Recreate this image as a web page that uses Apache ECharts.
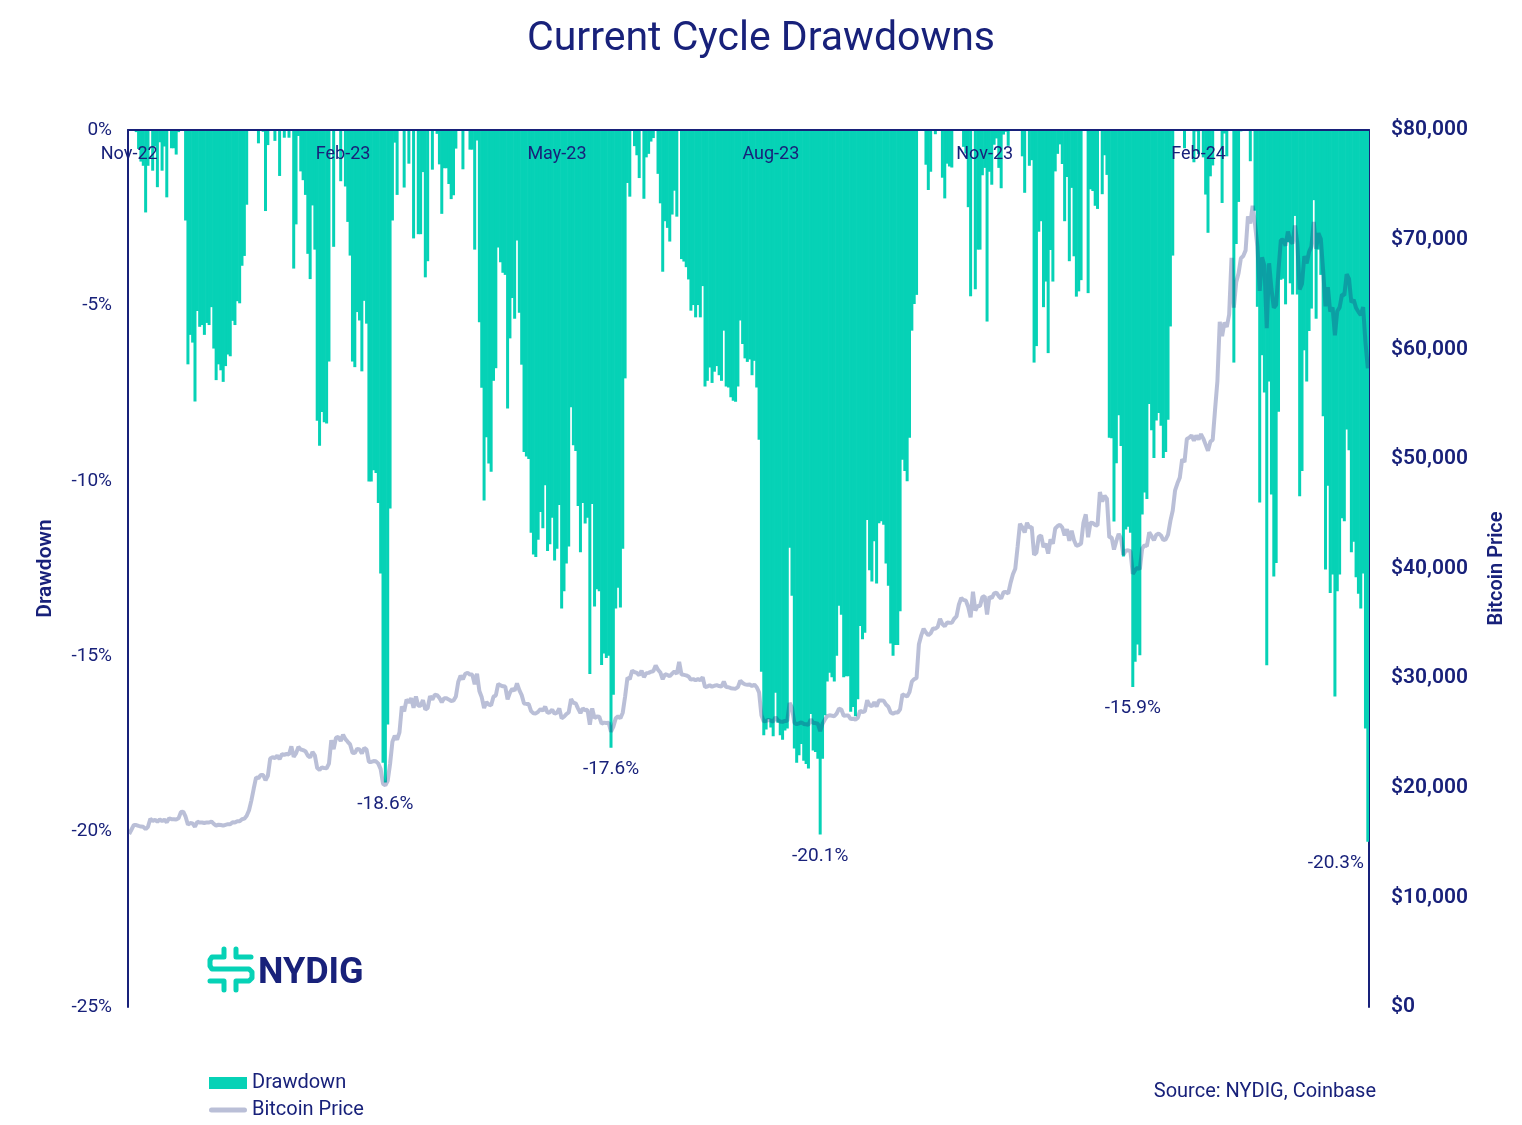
<!DOCTYPE html>
<html>
<head>
<meta charset="utf-8">
<title>Current Cycle Drawdowns</title>
<script src="https://cdn.jsdelivr.net/npm/echarts@6/dist/echarts.min.js"></script>
<style>
  html, body { margin: 0; padding: 0; background: #fff; }
  #chart { width: 1522px; height: 1125px; }
</style>
</head>
<body>
<div id="chart"></div>
<script>
// daily BTC closes (thousand $); month arrays start on the day given in priceMonths
const nov22 = [15.78, 16.19, 16.61, 16.60, 16.52, 16.46, 16.44, 16.22, 16.44, 17.17];
const dec22 = [16.97, 17.09, 16.89, 17.11, 16.97, 17.09, 16.84, 17.22, 17.13, 17.13, 17.10, 17.21, 17.78, 17.82, 17.36, 16.63,
  16.78, 16.74, 16.44, 16.90, 16.82, 16.83, 16.78, 16.84, 16.83, 16.92, 16.71, 16.55, 16.63, 16.60, 16.54];
const jan23 = [16.62, 16.68, 16.67, 16.85, 16.83, 16.95, 16.94, 17.13, 17.18, 17.44, 17.94, 18.85, 19.93, 20.95, 20.87, 21.17,
  21.16, 20.68, 21.08, 22.67, 22.78, 22.71, 22.92, 22.62, 23.06, 23.01, 23.08, 23.03, 23.77, 22.83, 23.13];
const feb23 = [23.73, 23.49, 23.43, 23.33, 22.93, 22.76, 23.26, 22.96, 21.80, 21.63, 21.86, 21.79, 21.78, 22.20, 24.33, 23.52,
  24.57, 24.63, 24.27, 24.84, 24.44, 24.19, 23.95, 23.20, 23.16, 23.55, 23.49, 23.13];
const mar23 = [23.63, 23.47, 22.35, 22.35, 22.43, 22.41, 22.20, 21.70, 20.36, 20.22, 20.63, 22.16, 24.20, 24.75, 24.38, 25.05,
  27.42, 26.97, 28.04, 27.77, 28.17, 27.30, 28.33, 27.49, 27.49, 27.99, 27.14, 27.27, 28.35, 28.03, 28.48];
const apr23 = [28.45, 28.20, 27.80, 28.17, 28.17, 28.04, 27.92, 27.95, 28.33, 29.65, 30.23, 29.89, 30.40, 30.49, 30.32, 30.32,
  29.45, 30.40, 28.82, 28.25, 27.27, 27.82, 27.59, 27.52, 28.31, 28.42, 29.47, 29.34, 29.25, 29.23];
const may23 = [28.07, 28.68, 29.03, 28.85, 29.53, 28.90, 28.45, 27.69, 27.65, 27.63, 26.99, 26.80, 26.78, 26.93, 27.17, 27.03,
  27.40, 26.83, 26.89, 27.12, 26.75, 26.85, 27.23, 26.33, 26.48, 26.72, 26.87, 28.08, 27.75, 27.70, 27.22];
const jun23 = [26.82, 27.25, 27.07, 27.12, 25.76, 27.24, 26.35, 26.50, 26.48, 25.84, 25.94, 25.90, 25.92, 25.12, 25.58, 26.33,
  26.51, 26.34, 26.85, 28.33, 30.03, 29.91, 30.69, 30.55, 30.47, 30.27, 30.69, 30.09, 30.45, 30.48];
const jul23 = [30.59, 30.62, 31.16, 30.77, 30.51, 29.90, 30.35, 30.29, 30.17, 30.41, 30.62, 30.39, 31.48, 30.32, 30.30, 30.25,
  30.14, 29.86, 29.91, 29.80, 29.91, 29.80, 30.08, 29.18, 29.23, 29.35, 29.21, 29.31, 29.36, 29.28, 29.23];
const aug23 = [29.68, 29.18, 29.17, 29.08, 29.05, 29.04, 29.18, 29.77, 29.56, 29.43, 29.40, 29.42, 29.28, 29.41, 29.17, 28.70,
  26.62, 26.05, 26.10, 26.19, 26.12, 26.04, 26.43, 26.16, 26.05, 26.01, 26.09, 26.11, 27.73, 27.30, 25.93];
const sep23 = [25.80, 25.87, 25.97, 25.82, 25.79, 25.75, 26.24, 25.91, 25.90, 25.84, 25.16, 25.84, 26.23, 26.53, 26.61, 26.57,
  26.53, 26.76, 27.21, 27.13, 26.57, 26.58, 26.58, 26.26, 26.30, 26.22, 26.37, 27.03, 26.91, 26.97];
const oct23 = [27.98, 27.53, 27.43, 27.79, 27.41, 27.95, 27.97, 27.94, 27.59, 27.39, 26.87, 26.76, 26.86, 26.86, 27.16, 28.52,
  28.42, 28.33, 28.72, 29.68, 29.92, 30.00, 33.09, 33.90, 34.50, 34.16, 33.91, 34.09, 34.54, 34.50, 34.67];
const nov23 = [35.42, 34.94, 34.73, 35.08, 35.05, 35.04, 35.42, 35.63, 36.70, 37.31, 37.13, 37.06, 36.49, 35.54, 37.88, 36.16,
  36.59, 36.59, 37.39, 37.47, 35.81, 37.43, 37.29, 37.72, 37.79, 37.47, 37.25, 37.83, 37.86, 37.71];
const dec23 = [38.69, 39.47, 39.98, 41.98, 44.08, 43.75, 43.29, 44.17, 43.72, 43.79, 41.24, 41.45, 42.89, 43.02, 41.94, 42.26,
  41.36, 42.66, 42.26, 43.65, 43.87, 43.99, 43.74, 43.02, 43.58, 42.52, 43.44, 42.58, 42.07, 42.14, 42.28];
const jan24 = [44.18, 44.94, 42.85, 44.18, 44.16, 43.97, 43.93, 46.97, 46.11, 46.63, 46.37, 42.85, 42.84, 41.73, 42.51, 43.15,
  42.74, 41.26, 41.62, 41.66, 41.58, 39.51, 39.85, 40.08, 39.94, 41.82, 42.12, 42.03, 43.30, 42.95, 42.58];
const feb24 = [43.08, 43.18, 43.01, 42.58, 42.66, 43.09, 44.34, 45.29, 47.13, 47.77, 48.29, 49.96, 49.70, 51.81, 51.94, 52.14,
  51.66, 52.12, 51.78, 52.26, 51.85, 51.30, 50.73, 51.57, 51.73, 54.48, 57.08, 62.50, 61.20];
const mar24 = [62.44, 62.03, 63.17, 68.33, 63.80, 66.11, 66.93, 68.30, 68.50, 69.02, 72.12, 71.48, 73.08, 71.40, 69.40, 65.32,
  68.39, 67.61, 61.93, 67.84, 65.49, 63.78, 64.06, 67.21, 69.96, 69.98, 69.45, 70.74, 69.89, 69.65, 71.29];
const apr24 = [69.65, 65.45, 65.98, 68.49, 67.84, 68.89, 69.36, 71.62, 69.15, 70.59, 70.06, 67.12, 63.92, 65.67, 63.43, 63.82,
  61.28, 63.47, 63.82, 64.99, 64.93, 66.84, 66.41, 64.28, 64.50, 63.76, 63.42, 63.11, 63.84, 60.61];
const may24 = [58.25];

const priceMonths = [
  ['2022-11', 21, nov22], ['2022-12', 1, dec22], ['2023-01', 1, jan23], ['2023-02', 1, feb23],
  ['2023-03', 1, mar23], ['2023-04', 1, apr23], ['2023-05', 1, may23], ['2023-06', 1, jun23],
  ['2023-07', 1, jul23], ['2023-08', 1, aug23], ['2023-09', 1, sep23], ['2023-10', 1, oct23],
  ['2023-11', 1, nov23], ['2023-12', 1, dec23], ['2024-01', 1, jan24], ['2024-02', 1, feb24],
  ['2024-03', 1, mar24], ['2024-04', 1, apr24], ['2024-05', 1, may24]
];

// x tick labels, one every 91 days from the first date
const xTickLabels = ['Nov-22', 'Feb-23', 'May-23', 'Aug-23', 'Nov-23', 'Feb-24'];

// labelled troughs
const troughDates = ['2023-03-10', '2023-06-14', '2023-09-11', '2024-01-22', '2024-05-01'];
const troughLabels = ['-18.6%', '-17.6%', '-20.1%', '-15.9%', '-20.3%'];

const navy = '#18217a';
const teal = '#06d2b6';
const lineColor = 'rgba(27,42,122,0.3)';

// build dates and values
let dates = [];
let price = [];
priceMonths.forEach(function (m) {
  m[2].forEach(function (v, i) {
    let d = m[1] + i;
    dates.push(m[0] + '-' + (d < 10 ? '0' + d : d));
    price.push(Math.round(v * 1000));
  });
});

// drawdown from running high of the cycle
let drawdown = [];
let high = 0;
price.forEach(function (p) {
  high = Math.max(high, p);
  drawdown.push(+((p / high - 1) * 100).toFixed(2));
});

let troughPoints = troughDates.map(function (d, k) {
  let i = dates.indexOf(d);
  let pt = { coord: [d, drawdown[i]], value: troughLabels[k] };
  if (k === troughDates.length - 1) {
    pt.label = { offset: [-32, 0] };
  }
  return pt;
});

// logo strokes
const logoStyle = { stroke: teal, lineWidth: 5, fill: null, lineCap: 'round', lineJoin: 'round' };

let myChart = echarts.init(document.getElementById('chart'));

let option = {
  backgroundColor: '#ffffff',
  animation: false,
  textStyle: { fontFamily: 'Roboto, "Noto Sans", sans-serif' },
  title: {
    text: 'Current Cycle Drawdowns',
    left: 'center',
    top: 14,
    textStyle: { color: navy, fontSize: 41, fontWeight: 'normal', fontFamily: 'Roboto' }
  },
  legend: {
    orient: 'vertical',
    left: 204,
    top: 1068,
    height: 100,
    itemGap: 7,
    itemWidth: 38,
    itemHeight: 12,
    itemTextGap: 4,
    textStyle: { color: navy, fontSize: 20 },
    data: [
      { name: 'Drawdown', icon: 'rect' },
      { name: 'Bitcoin Price', icon: 'path://M2.5,0 H35.5 A2.5,2.5 0 0 1 35.5,5 H2.5 A2.5,2.5 0 0 1 2.5,0 Z', itemStyle: { color: lineColor } }
    ]
  },
  grid: { left: 128, right: 153, top: 130, bottom: 118 },
  xAxis: {
    type: 'category',
    data: dates,
    position: 'top',
    boundaryGap: true,
    z: 10,
    axisLine: { onZero: false, lineStyle: { color: navy, width: 2 } },
    axisTick: { show: false },
    axisLabel: {
      inside: true,
      interval: 90,
      margin: 15,
      color: navy,
      fontSize: 18,
      formatter: function (v, i) { return xTickLabels[Math.round(i / 91)] || ''; }
    },
    splitLine: { show: false }
  },
  yAxis: [
    {
      type: 'value',
      min: -25,
      max: 0,
      interval: 5,
      position: 'left',
      name: 'Drawdown',
      nameLocation: 'middle',
      nameGap: 72,
      nameTextStyle: { color: navy, fontSize: 21, fontWeight: 600 },
      axisLine: { show: true, lineStyle: { color: navy, width: 2 } },
      axisTick: { show: false },
      splitLine: { show: false },
      axisLabel: { color: navy, fontSize: 19, margin: 16, formatter: '{value}%' }
    },
    {
      type: 'value',
      min: 0,
      max: 80000,
      interval: 10000,
      position: 'right',
      name: 'Bitcoin Price',
      nameLocation: 'middle',
      nameGap: 118,
      nameTextStyle: { color: navy, fontSize: 20, fontWeight: 600 },
      axisLine: { show: true, lineStyle: { color: navy, width: 2 } },
      axisTick: { show: false },
      splitLine: { show: false },
      axisLabel: {
        color: navy,
        fontSize: 21,
        fontWeight: 600,
        margin: 22,
        formatter: function (v) { return '$' + v.toLocaleString('en-US'); }
      }
    }
  ],
  series: [
    {
      name: 'Drawdown',
      type: 'bar',
      data: drawdown,
      barWidth: 3,
      itemStyle: { color: teal },
      z: 2,
      markPoint: {
        symbol: 'circle',
        symbolSize: 2,
        itemStyle: { color: 'rgba(0,0,0,0)' },
        label: {
          show: true,
          position: 'bottom',
          distance: 11,
          color: navy,
          fontSize: 19,
          formatter: function (p) { return p.value; }
        },
        data: troughPoints
      }
    },
    {
      name: 'Bitcoin Price',
      type: 'line',
      yAxisIndex: 1,
      data: price,
      symbol: 'none',
      lineStyle: { color: lineColor, width: 4 },
      itemStyle: { color: lineColor },
      z: 3
    }
  ],
  graphic: [
    {
      type: 'text',
      right: 146,
      top: 1082,
      style: { text: 'Source: NYDIG, Coinbase', fill: navy, fontSize: 20, fontFamily: 'Roboto' }
    },
    {
      type: 'polyline',
      shape: { points: [[224, 949], [224, 957], [212, 957], [210, 960], [210, 966], [212, 969], [249, 969], [252, 972], [252, 978], [249, 981], [236, 981], [236, 990]] },
      style: logoStyle
    },
    {
      type: 'polyline',
      shape: { points: [[236, 949], [236, 957], [251, 957]] },
      style: logoStyle
    },
    {
      type: 'polyline',
      shape: { points: [[210, 981], [224, 981], [224, 990]] },
      style: logoStyle
    },
    {
      type: 'text',
      x: 258,
      y: 956,
      style: { text: 'NYDIG', fill: navy, fontSize: 36, fontWeight: 'bold', fontFamily: 'Roboto' }
    }
  ]
};

myChart.setOption(option);
</script>
</body>
</html>
